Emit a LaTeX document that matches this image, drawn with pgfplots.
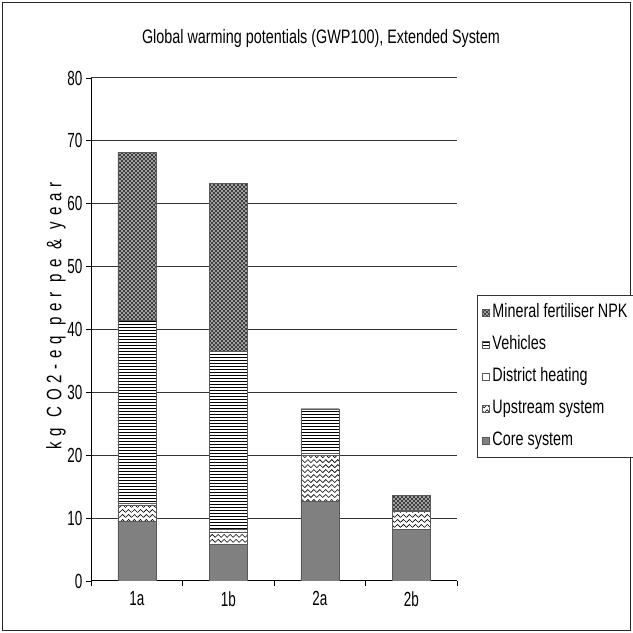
\documentclass[border=0pt]{standalone}
\usepackage{fontspec}
\setmainfont{Liberation Sans}[FakeStretch=0.74]
\newfontfamily\ticksfont{Liberation Sans}[FakeStretch=0.66]
\newfontfamily\labelfont{Liberation Sans}[FakeStretch=0.72, LetterSpace=28]
\usepackage{pgfplots}
\pgfplotsset{compat=1.18}
\usetikzlibrary{patterns}

\pgfdeclarepatternformonly{zigzag}{\pgfqpoint{-1pt}{-1pt}}{\pgfqpoint{7pt}{6pt}}{\pgfqpoint{6pt}{5pt}}{%
  \pgfsetlinewidth{0.6pt}
  \pgfpathmoveto{\pgfqpoint{0pt}{1pt}}
  \pgfpathlineto{\pgfqpoint{3pt}{4pt}}
  \pgfpathlineto{\pgfqpoint{6pt}{1pt}}
  \pgfusepath{stroke}}
\pgfdeclarepatternformonly{whitedots}{\pgfqpoint{0pt}{0pt}}{\pgfqpoint{4pt}{4pt}}{\pgfqpoint{4pt}{4pt}}{%
  \pgfpathcircle{\pgfqpoint{1pt}{1pt}}{0.9pt}
  \pgfpathcircle{\pgfqpoint{3pt}{3pt}}{0.9pt}
  \pgfusepath{fill}}

\pgfplotsset{
  core/.style={fill=black!50, draw=black!65},
  upstream/.style={fill=white, draw=black!65, postaction={pattern=zigzag}},
  district/.style={fill=white, draw=black!65},
  vehicles/.style={fill=white, draw=black!65, postaction={pattern=horizontal lines}},
  fertiliser/.style={fill=black!75, draw=black!65, postaction={pattern=whitedots, pattern color=white}},
}

\begin{document}
\begin{tikzpicture}[x=1bp,y=1bp]
\useasboundingbox (0,0) rectangle (633,633);
\draw[line width=1.5bp, black!85] (2.5,2.5) rectangle (630.5,630.5);
\node[font=\fontsize{19.5}{22}\selectfont] at (321,595) {Global warming potentials (GWP100), Extended System};
\node[rotate=90, font=\labelfont\fontsize{21}{22}\selectfont] at (56,317) {kg CO2-eq per pe \& year};
\begin{axis}[
  at={(91bp,52bp)}, anchor=south west,
  scale only axis, width=366bp, height=503bp,
  ybar stacked, bar width=38bp,
  xmin=-0.5, xmax=3.5, ymin=0, ymax=80,
  axis lines*=left, axis line style={-, black, line width=1bp},
  xtick={-0.5,0.5,1.5,2.5,3.5}, xticklabels={},
  extra x ticks={0,1,2,3}, extra x tick labels={1a,1b,2a,2b},
  extra x tick style={major tick length=0pt},
  ytick={0,10,...,80},
  tick align=outside, major tick length=5bp,
  tick style={black, line width=0.8bp},
  ymajorgrids, grid style={black!80, line width=1bp},
  ticklabel style={font=\ticksfont\fontsize{20.5}{22}\selectfont},
  /pgf/number format/assume math mode=true,
  xticklabel style={yshift=-7bp},
  reverse legend,
  legend image code/.code={\draw[#1] (0bp,-3.5bp) rectangle (7bp,3.5bp);},
  legend style={at={(1.0546,0.5686)}, anchor=north west,
    draw=black!80, line width=1bp,
    font=\fontsize{19.5}{22}\selectfont,
    cells={anchor=west},
    nodes={inner sep=0pt, inner xsep=2bp, text height=13bp, text depth=3.5bp},
    row sep=15.5bp, inner ysep=9bp, inner xsep=5bp},
]
\addplot[core] coordinates {(0,9.5) (1,5.8) (2,12.7) (3,8.2)};
\addplot[upstream] coordinates {(0,2.6) (1,2.0) (2,7.3) (3,2.9)};
\addplot[district] coordinates {(0,0.3) (1,0.4) (2,0.4) (3,0.2)};
\addplot[vehicles] coordinates {(0,29.0) (1,28.3) (2,7.0) (3,0)};
\addplot[fertiliser] coordinates {(0,26.8) (1,26.7) (2,0) (3,2.3)};
\legend{Core system, Upstream system, District heating, Vehicles, Mineral fertiliser NPK}
\end{axis}
\end{tikzpicture}
\end{document}
